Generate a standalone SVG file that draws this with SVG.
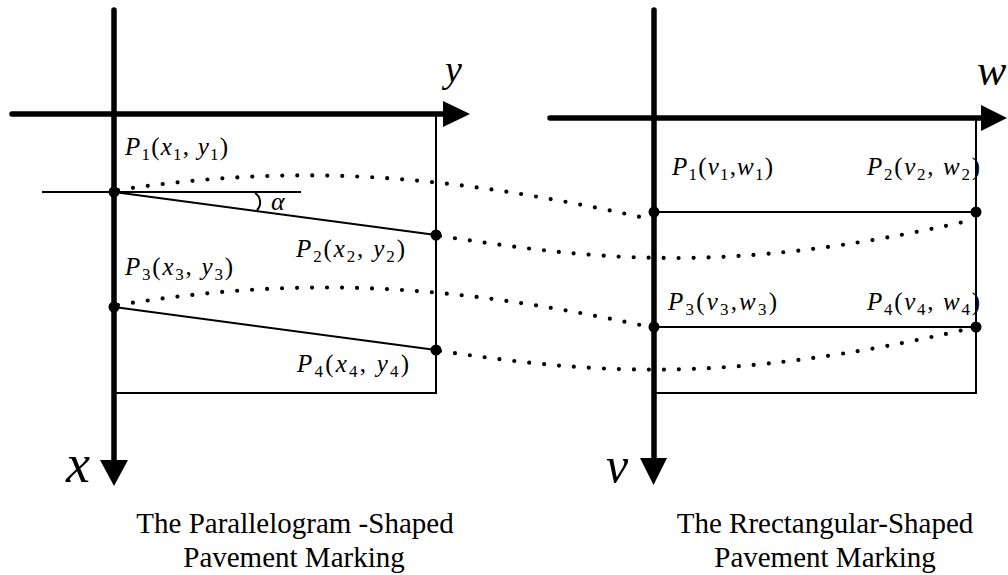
<svg xmlns="http://www.w3.org/2000/svg" width="1008" height="575" viewBox="0 0 1008 575">
<style>
.axis{stroke:#000;stroke-width:5.5;fill:none;stroke-linecap:round}
.thin{stroke:#000;stroke-width:2;fill:none}
.dots{stroke:#000;stroke-width:4.2;fill:none;stroke-linecap:round;stroke-dasharray:0 15}
.pt{fill:#000}
text{font-family:"Liberation Serif","Times New Roman",serif;fill:#000}
.m{font-size:25px}
.i{font-style:italic}
.s{font-size:17px;font-style:normal}
.ax{font-style:italic}
.cap{font-size:29px;text-anchor:middle}
</style>
<rect width="1008" height="575" fill="#fff"/>
<g id="left-frame">
<line class="axis" x1="114" y1="10" x2="114" y2="462"/>
<polygon points="100,460 128,460 114,486"/>
<line class="axis" x1="12" y1="114" x2="446" y2="114"/>
<polygon points="443,101 443,127 470,114"/>
<polyline class="thin" points="436,114 436,393 114,393"/>
<line class="thin" x1="42" y1="192" x2="301" y2="192"/>
<line class="thin" x1="114" y1="192" x2="436" y2="235"/>
<line class="thin" x1="114" y1="307" x2="436" y2="350"/>
<path class="thin" d="M255,193 A11 11 0 0 1 257,210"/>
<text class="ax" x="445" y="82" font-size="38">y</text>
<text class="ax" x="66" y="482" font-size="54">x</text>
<text class="i" x="271" y="210" font-size="26">α</text>
</g>
<g id="right-frame">
<line class="axis" x1="654" y1="10" x2="654" y2="460"/>
<polygon points="640,458 667,458 653.5,485"/>
<line class="axis" x1="550" y1="118" x2="983" y2="118"/>
<polygon points="981,105 981,131 1007,118"/>
<polyline class="thin" points="976,118 976,393 654,393"/>
<line class="thin" x1="654" y1="212" x2="976" y2="212"/>
<line class="thin" x1="654" y1="327" x2="976" y2="327"/>
<text class="ax" x="977" y="85" font-size="44">w</text>
<text class="ax" x="606" y="482" font-size="50">v</text>
</g>
<g id="connectors">
<path class="dots" d="M118,190 C298,163 445,174 645,218"/>
<path class="dots" d="M440,236 C590,258.5 722,277.5 972,220"/>
<path class="dots" d="M118,305 C298,276 445,283 645,326"/>
<path class="dots" d="M440,351 C590,373 722,386 972,328"/>
</g>
<g id="L-P1"><circle class="pt" cx="114" cy="192" r="5.5"/>
<text class="m" x="125" y="155" textLength="103" lengthAdjust="spacing"><tspan class="i">P</tspan><tspan class="s" dy="5">1</tspan><tspan dy="-5">(</tspan><tspan class="i">x</tspan><tspan class="s" dy="5">1</tspan><tspan dy="-5">, </tspan><tspan class="i">y</tspan><tspan class="s" dy="5">1</tspan><tspan dy="-5">)</tspan></text></g>
<g id="L-P2"><circle class="pt" cx="436" cy="235" r="5.5"/>
<text class="m" x="296" y="257" textLength="109" lengthAdjust="spacing"><tspan class="i">P</tspan><tspan class="s" dy="5">2</tspan><tspan dy="-5">(</tspan><tspan class="i">x</tspan><tspan class="s" dy="5">2</tspan><tspan dy="-5">, </tspan><tspan class="i">y</tspan><tspan class="s" dy="5">2</tspan><tspan dy="-5">)</tspan></text></g>
<g id="L-P3"><circle class="pt" cx="114" cy="307" r="5.5"/>
<text class="m" x="125" y="275" textLength="108" lengthAdjust="spacing"><tspan class="i">P</tspan><tspan class="s" dy="5">3</tspan><tspan dy="-5">(</tspan><tspan class="i">x</tspan><tspan class="s" dy="5">3</tspan><tspan dy="-5">, </tspan><tspan class="i">y</tspan><tspan class="s" dy="5">3</tspan><tspan dy="-5">)</tspan></text></g>
<g id="L-P4"><circle class="pt" cx="436" cy="350" r="5.5"/>
<text class="m" x="297" y="372" textLength="112" lengthAdjust="spacing"><tspan class="i">P</tspan><tspan class="s" dy="5">4</tspan><tspan dy="-5">(</tspan><tspan class="i">x</tspan><tspan class="s" dy="5">4</tspan><tspan dy="-5">, </tspan><tspan class="i">y</tspan><tspan class="s" dy="5">4</tspan><tspan dy="-5">)</tspan></text></g>
<g id="R-P1"><circle class="pt" cx="654" cy="212" r="5.5"/>
<text class="m" x="672" y="175" textLength="101" lengthAdjust="spacing"><tspan class="i">P</tspan><tspan class="s" dy="5">1</tspan><tspan dy="-5">(</tspan><tspan class="i">v</tspan><tspan class="s" dy="5">1</tspan><tspan dy="-5">,</tspan><tspan class="i">w</tspan><tspan class="s" dy="5">1</tspan><tspan dy="-5">)</tspan></text></g>
<g id="R-P2"><circle class="pt" cx="976" cy="212" r="5.5"/>
<text class="m" x="867" y="175" textLength="113" lengthAdjust="spacing"><tspan class="i">P</tspan><tspan class="s" dy="5">2</tspan><tspan dy="-5">(</tspan><tspan class="i">v</tspan><tspan class="s" dy="5">2</tspan><tspan dy="-5">, </tspan><tspan class="i">w</tspan><tspan class="s" dy="5">2</tspan><tspan dy="-5">)</tspan></text></g>
<g id="R-P3"><circle class="pt" cx="654" cy="327" r="5.5"/>
<text class="m" x="668" y="310" textLength="109" lengthAdjust="spacing"><tspan class="i">P</tspan><tspan class="s" dy="5">3</tspan><tspan dy="-5">(</tspan><tspan class="i">v</tspan><tspan class="s" dy="5">3</tspan><tspan dy="-5">,</tspan><tspan class="i">w</tspan><tspan class="s" dy="5">3</tspan><tspan dy="-5">)</tspan></text></g>
<g id="R-P4"><circle class="pt" cx="976" cy="327" r="5.5"/>
<text class="m" x="867" y="310" textLength="113" lengthAdjust="spacing"><tspan class="i">P</tspan><tspan class="s" dy="5">4</tspan><tspan dy="-5">(</tspan><tspan class="i">v</tspan><tspan class="s" dy="5">4</tspan><tspan dy="-5">, </tspan><tspan class="i">w</tspan><tspan class="s" dy="5">4</tspan><tspan dy="-5">)</tspan></text></g>
<g id="captions">
<text class="cap" x="295" y="533">The Parallelogram -Shaped</text>
<text class="cap" x="294" y="567">Pavement Marking</text>
<text class="cap" x="825" y="533">The Rrectangular-Shaped</text>
<text class="cap" x="825" y="567">Pavement Marking</text>
</g>
</svg>
